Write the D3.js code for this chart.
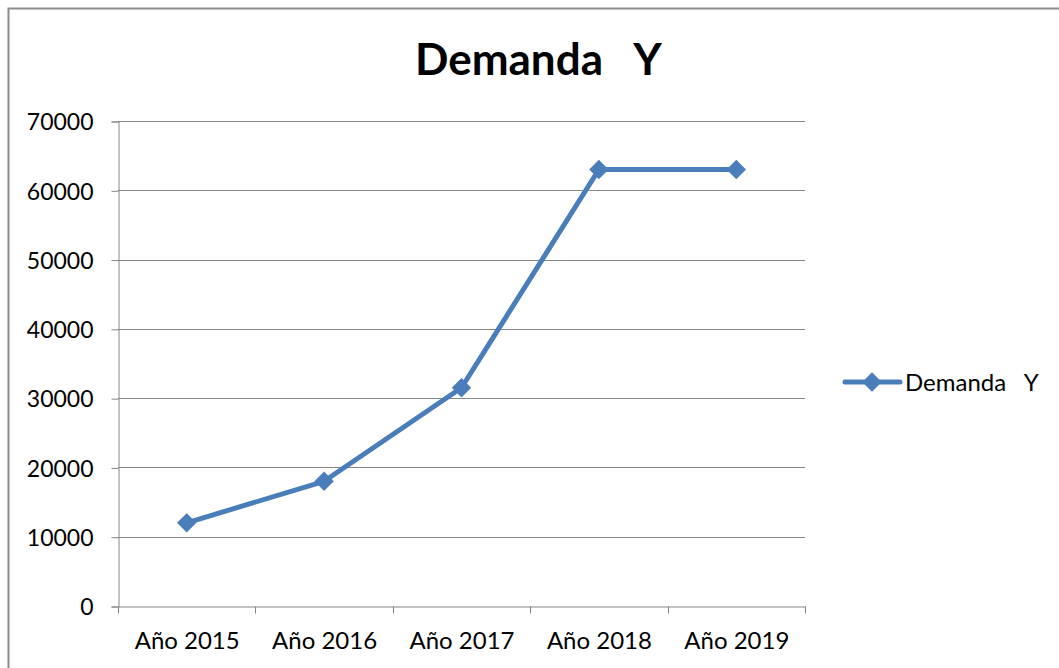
<!DOCTYPE html>
<html lang="es">
<head>
<meta charset="utf-8">
<title>Demanda Y</title>
<script src="https://d3js.org/d3.v7.min.js"></script>
<style>
  body { margin: 0; background: #fff; }
  svg text { font-family: Lato, "Open Sans", sans-serif; fill: #000; }
</style>
</head>
<body>
<script>
// datos
var years = ["Año 2015", "Año 2016", "Año 2017", "Año 2018", "Año 2019"];
var demanda = [12000, 18000, 31500, 63000, 63000];
var yTicks = [0, 10000, 20000, 30000, 40000, 50000, 60000, 70000];

var W = 1059, H = 668;
var plot = {left: 118, right: 805, top: 121, bottom: 606};
var blue = "#4a7ebb", grid = "#868686";

var svg = d3.select("body").append("svg")
  .attr("width", W).attr("height", H);

// marco exterior
svg.append("rect")
  .attr("x", 8.5).attr("y", 8.5)
  .attr("width", W + 20).attr("height", H + 20)
  .attr("fill", "#fff").attr("stroke", "#8c8c8c").attr("stroke-width", 2);

var x = d3.scaleBand().domain(years).range([plot.left, plot.right]);
var y = d3.scaleLinear().domain([0, 70000]).range([plot.bottom, plot.top]);

// rejilla horizontal
svg.append("g").selectAll("line")
  .data(yTicks.slice(1))
  .enter().append("line")
  .attr("x1", plot.left).attr("x2", plot.right)
  .attr("y1", function(d){ return Math.round(y(d)) + 0.5; })
  .attr("y2", function(d){ return Math.round(y(d)) + 0.5; })
  .attr("stroke", grid).attr("stroke-width", 1);

// eje Y
var yAxis = svg.append("g")
  .attr("transform", "translate(" + (plot.left + 0.5) + ",0.5)")
  .call(d3.axisLeft(y).tickValues(yTicks).tickSize(7).tickPadding(18)
    .tickFormat(d3.format("d")));
yAxis.select(".domain").attr("stroke", grid);
yAxis.selectAll(".tick line").attr("stroke", grid);
yAxis.selectAll("text").style("font-size", "23px").attr("dy", "0.36em");

// eje X
var xAxis = svg.append("g")
  .attr("transform", "translate(0.5," + (plot.bottom + 0.5) + ")")
  .call(d3.axisBottom(x).tickSize(0).tickPadding(34));
xAxis.select(".domain").attr("stroke", grid);
xAxis.selectAll("text").style("font-size", "24px").attr("dy", "0.36em");
// marcas entre categorias
var bounds = years.map(function(d){ return x(d); }).concat([x.range()[1]]);
xAxis.selectAll(".sep").data(bounds).enter().append("line")
  .attr("x1", function(d){ return Math.round(d); })
  .attr("x2", function(d){ return Math.round(d); })
  .attr("y1", 0).attr("y2", 7)
  .attr("stroke", grid);

// serie
var cx = function(d, i){ return x(years[i]) + x.bandwidth() / 2; };
var line = d3.line().x(cx).y(function(d){ return y(d); });

svg.append("path")
  .datum(demanda)
  .attr("d", line)
  .attr("fill", "none").attr("stroke", blue)
  .attr("stroke-width", 5).attr("stroke-linejoin", "round");

var diamond = d3.symbol().type(d3.symbolDiamond2).size(240);
svg.append("g").selectAll("path")
  .data(demanda).enter().append("path")
  .attr("d", diamond)
  .attr("transform", function(d, i){ return "translate(" + cx(d, i) + "," + y(d) + ")"; })
  .attr("fill", blue);

// titulo
svg.append("text")
  .attr("x", 415).attr("y", 75)
  .attr("xml:space", "preserve")
  .style("font-size", "44px").style("font-weight", "bold")
  .text("Demanda   Y");

// leyenda
var lg = svg.append("g").attr("transform", "translate(845,382)");
lg.append("line").attr("x1", 0).attr("x2", 55).attr("y1", 0).attr("y2", 0)
  .attr("stroke", blue).attr("stroke-width", 5).attr("stroke-linecap", "round");
lg.append("path").attr("d", diamond).attr("transform", "translate(27,0)").attr("fill", blue);
lg.append("text").attr("x", 60).attr("y", 0).attr("dy", "0.36em")
  .attr("xml:space", "preserve")
  .style("font-size", "24px")
  .text("Demanda   Y");
</script>
</body>
</html>
